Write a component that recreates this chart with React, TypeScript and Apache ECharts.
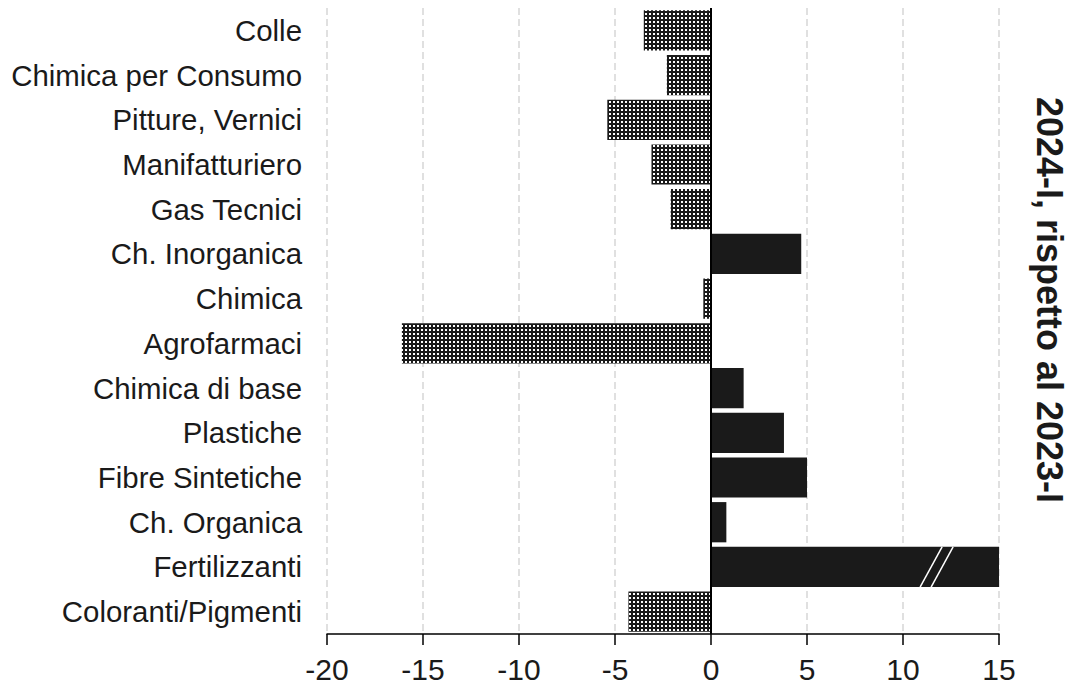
import React, { useEffect, useRef } from "react";
import * as echarts from "echarts";

const categories = [
  "Colle",
  "Chimica per Consumo",
  "Pitture, Vernici",
  "Manifatturiero",
  "Gas Tecnici",
  "Ch. Inorganica",
  "Chimica",
  "Agrofarmaci",
  "Chimica di base",
  "Plastiche",
  "Fibre Sintetiche",
  "Ch. Organica",
  "Fertilizzanti",
  "Coloranti/Pigmenti",
];
const values = [-3.5, -2.3, -5.4, -3.1, -2.1, 4.7, -0.4, -16.1, 1.7, 3.8, 5.0, 0.8, 15, -4.3];
const xTicks = { min: -20, max: 15, interval: 5 };
const breakMark = [[11.75, "Fertilizzanti"]];
const title = "2024-I, rispetto al 2023-I";

const FONT = "'Liberation Sans', Arial, sans-serif";
const DARK = "#1a1a1a";

function makePattern() {
  const c = document.createElement("canvas");
  c.width = 4;
  c.height = 4;
  const ctx = c.getContext("2d")!;
  ctx.fillStyle = DARK;
  ctx.fillRect(0, 0, 4, 4);
  ctx.fillStyle = "#ffffff";
  ctx.fillRect(1, 1, 2, 2);
  return c;
}

export default function App() {
  const ref = useRef<HTMLDivElement>(null);
  useEffect(() => {
    if (!ref.current) return;
    const chart = echarts.init(ref.current, null, { renderer: "svg" });
    const pattern = { image: makePattern(), repeat: "repeat" };
    chart.setOption({
      animation: false,
      backgroundColor: "#ffffff",
      grid: { left: 327, right: 69, top: 8, bottom: 51, containLabel: false },
      xAxis: {
        type: "value",
        min: xTicks.min,
        max: xTicks.max,
        interval: xTicks.interval,
        axisLine: { show: true, onZero: false, lineStyle: { color: "#000", width: 1.5 } },
        axisTick: { show: true, length: 11, lineStyle: { color: "#000", width: 1.5 } },
        axisLabel: { color: DARK, fontSize: 30, fontFamily: FONT, margin: 20 },
        splitLine: { show: true, lineStyle: { color: "#d6d6d6", width: 1.5, type: [7, 4] } },
      },
      yAxis: {
        type: "category",
        data: categories,
        inverse: true,
        axisLine: { show: false },
        axisTick: { show: false },
        axisLabel: { color: DARK, fontSize: 29.4, fontFamily: FONT, margin: 25 },
        splitLine: { show: false },
      },
      graphic: [
        {
          type: "text",
          x: 1049,
          y: 300,
          rotation: -Math.PI / 2,
          style: {
            text: title,
            fill: DARK,
            font: `bold 36px ${FONT}`,
            align: "center",
            verticalAlign: "middle",
          },
        },
      ],
      series: [
        {
          type: "bar",
          data: values.map((v) => ({
            value: v,
            itemStyle: { color: v < 0 ? pattern : DARK },
          })),
          barCategoryGap: "10%",
          markLine: {
            silent: true,
            symbol: "none",
            label: { show: false },
            lineStyle: { color: "#000", width: 2, type: "solid" },
            data: [{ xAxis: 0 }],
          },
        },
        {
          type: "custom",
          data: breakMark,
          renderItem: (params: any, api: any) => {
            const p = api.coord([api.value(0), api.value(1)]);
            const h = api.size([0, 1])[1] * 0.9;
            const half = h / 2;
            const dx = 11;
            const off = 5.5;
            const mk = (o: number) => ({
              type: "line",
              shape: { x1: p[0] + o + dx, y1: p[1] - half, x2: p[0] + o - dx, y2: p[1] + half },
              style: { stroke: "#ffffff", lineWidth: 1.5 },
            });
            return { type: "group", children: [mk(-off), mk(off)] };
          },
          z: 10,
        },
      ],
    });
    return () => chart.dispose();
  }, []);
  return (
    <div
      ref={ref}
      style={{ position: "absolute", left: 0, top: 0, width: 1068, height: 685 }}
    />
  );
}
